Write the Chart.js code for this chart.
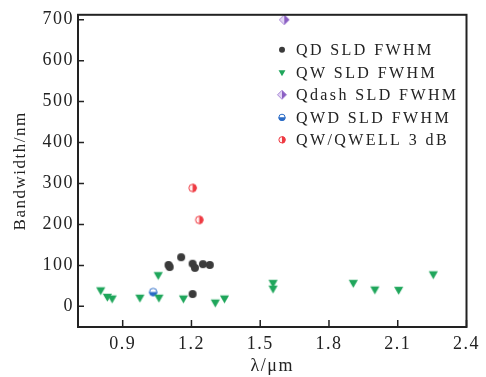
<!DOCTYPE html>
<html>
<head>
<meta charset="utf-8">
<script src="https://cdn.jsdelivr.net/npm/chart.js@4/dist/chart.umd.min.js"></script>
<style>
html, body { margin: 0; padding: 0; background: #fff; }
canvas { display: block; }
</style>
</head>
<body>
<canvas id="c" width="486" height="377"></canvas>
<script>
// values (x in um, y in nm)
const qdX = [1.10, 1.105, 1.155, 1.205, 1.215, 1.25, 1.28, 1.205];
const qdY = [101, 96, 120, 104, 94, 103, 101, 30];
const qwX = [0.804, 0.833, 0.854, 0.975, 1.055, 1.058, 1.165, 1.304, 1.344, 1.556, 1.556, 1.906, 2.0, 2.104, 2.255];
const qwY = [40, 24, 20, 22, 77, 22, 20, 10, 20, 58, 44, 58, 42, 41, 79];
const qdashX = [1.605];
const qdashY = [700];
const qwdX = [1.033];
const qwdY = [35];
const qwellX = [1.205, 1.234];
const qwellY = [289, 211];

const seriesNames = ["QD SLD FWHM", "QW SLD FWHM", "Qdash SLD FWHM", "QWD SLD FWHM", "QW/QWELL 3 dB"];
const xTicks = [0.9, 1.2, 1.5, 1.8, 2.1, 2.4];
const yTicks = [0, 100, 200, 300, 400, 500, 600, 700];

const INK = "#222";
const SERIF = '"Liberation Serif", "Times New Roman", serif';

function drawMarker(ctx, kind, x, y, r) {
    ctx.save();
    ctx.translate(x, y);
    ctx.lineWidth = 1;
    if (kind === "qd") {
        ctx.fillStyle = "#3b3b3b";
        ctx.beginPath();
        ctx.arc(0, 0, r, 0, 2 * Math.PI);
        ctx.fill();
    } else if (kind === "qw") {
        ctx.fillStyle = "#1fa65b";
        ctx.beginPath();
        ctx.moveTo(0, r);
        ctx.lineTo(-r * 0.866, -r / 2);
        ctx.lineTo(r * 0.866, -r / 2);
        ctx.closePath();
        ctx.fill();
    } else if (kind === "qdash") {
        ctx.fillStyle = "#e2d6f4";
        ctx.beginPath();
        ctx.moveTo(0, -r); ctx.lineTo(-r, 0); ctx.lineTo(0, r); ctx.closePath();
        ctx.fill();
        ctx.fillStyle = "#8a5ec2";
        ctx.beginPath();
        ctx.moveTo(0, -r); ctx.lineTo(r, 0); ctx.lineTo(0, r); ctx.closePath();
        ctx.fill();
        ctx.strokeStyle = "#a785d6";
        ctx.beginPath();
        ctx.moveTo(0, -r); ctx.lineTo(r, 0); ctx.lineTo(0, r); ctx.lineTo(-r, 0); ctx.closePath();
        ctx.stroke();
    } else if (kind === "qwd") {
        ctx.fillStyle = "#ffffff";
        ctx.beginPath(); ctx.arc(0, 0, r, Math.PI, 2 * Math.PI); ctx.fill();
        ctx.fillStyle = "#2a6bc6";
        ctx.beginPath(); ctx.arc(0, 0, r, 0, Math.PI); ctx.fill();
        ctx.strokeStyle = "#2a6bc6";
        ctx.beginPath(); ctx.arc(0, 0, r - 0.5, 0, 2 * Math.PI); ctx.stroke();
    } else if (kind === "qwell") {
        ctx.fillStyle = "#fff2f2";
        ctx.beginPath(); ctx.arc(0, 0, r, Math.PI / 2, Math.PI * 1.5); ctx.fill();
        ctx.fillStyle = "#ee3a42";
        ctx.beginPath(); ctx.arc(0, 0, r, -Math.PI / 2, Math.PI / 2); ctx.fill();
        ctx.strokeStyle = "#ee3a42";
        ctx.beginPath(); ctx.arc(0, 0, r - 0.5, 0, 2 * Math.PI); ctx.stroke();
    }
    ctx.restore();
}

function markerCanvas(kind, r) {
    const c = document.createElement("canvas");
    const s = Math.ceil(2 * r + 4);
    c.width = s;
    c.height = s;
    drawMarker(c.getContext("2d"), kind, s / 2, s / 2, r);
    return c;
}

const kinds = ["qd", "qw", "qdash", "qwd", "qwell"];
const pointR = [4, 5.3, 5, 4.2, 4.2];
const legendR = [3, 4, 4.5, 3.6, 3.6];
const xs = [qdX, qwX, qdashX, qwdX, qwellX];
const ys = [qdY, qwY, qdashY, qwdY, qwellY];

const datasets = seriesNames.map((name, i) => ({
    label: name,
    data: xs[i].map((x, k) => ({ x: x, y: ys[i][k] })),
    pointStyle: markerCanvas(kinds[i], pointR[i]),
    pointRadius: 5,
    showLine: false,
    clip: false,
}));

// frame, inward ticks, letter spacing and the in-plot legend
const framePlugin = {
    id: "frame",
    beforeLayout(chart) { chart.ctx.letterSpacing = "1.5px"; },
    beforeDraw(chart) { chart.ctx.letterSpacing = "1.5px"; },
    afterDraw(chart) {
        const ctx = chart.ctx;
        const a = chart.chartArea;
        const sx = chart.scales.x, sy = chart.scales.y;
        ctx.save();
        ctx.strokeStyle = INK;
        ctx.lineWidth = 2;
        ctx.strokeRect(a.left, a.top, a.right - a.left, a.bottom - a.top);
        ctx.lineWidth = 1.5;
        ctx.beginPath();
        xTicks.forEach((v) => {
            const px = sx.getPixelForValue(v);
            ctx.moveTo(px, a.bottom);
            ctx.lineTo(px, a.bottom - 7);
        });
        yTicks.forEach((v) => {
            const py = sy.getPixelForValue(v);
            ctx.moveTo(a.left, py);
            ctx.lineTo(a.left + 6, py);
        });
        ctx.stroke();

        const lx = a.left + 204, ly0 = a.top + 35, step = 22.5;
        ctx.font = "16px " + SERIF;
        ctx.letterSpacing = "2.4px";
        ctx.fillStyle = INK;
        ctx.textAlign = "left";
        ctx.textBaseline = "middle";
        seriesNames.forEach((n, i) => {
            const yy = ly0 + i * step;
            drawMarker(ctx, kinds[i], lx, yy, legendR[i]);
            ctx.fillText(n, lx + 14, yy + 1);
        });
        ctx.restore();
    },
};

new Chart(document.getElementById("c"), {
    type: "scatter",
    data: { datasets },
    options: {
        responsive: false,
        animation: false,
        events: [],
        layout: { padding: { top: 10, right: 13, left: 0, bottom: 0 } },
        plugins: { legend: { display: false }, tooltip: { enabled: false } },
        scales: {
            x: {
                type: "linear",
                min: 0.705,
                max: 2.4,
                afterBuildTicks: (s) => { s.ticks = xTicks.map((v) => ({ value: v })); },
                afterFit: (s) => { s.height = 50; },
                grid: { display: false, drawTicks: false },
                border: { display: false },
                ticks: {
                    autoSkip: false, maxRotation: 0, padding: 6, color: INK,
                    font: { family: SERIF, size: 18 },
                    callback: (v) => Number(v).toFixed(1),
                },
                title: {
                    display: true, text: "λ/μm", color: INK,
                    font: { family: SERIF, size: 18 },
                    padding: { top: 0, bottom: 0 },
                },
            },
            y: {
                type: "linear",
                min: -50.5,
                max: 712,
                afterBuildTicks: (s) => { s.ticks = yTicks.map((v) => ({ value: v })); },
                afterFit: (s) => { s.width = 78; },
                grid: { display: false, drawTicks: false },
                border: { display: false },
                ticks: {
                    padding: 4, color: INK,
                    font: { family: SERIF, size: 18 },
                },
                title: {
                    display: true, text: "Bandwidth/nm", color: INK,
                    font: { family: SERIF, size: 17 },
                    padding: { top: 10, bottom: 0 },
                },
            },
        },
    },
    plugins: [framePlugin],
});
</script>
</body>
</html>
